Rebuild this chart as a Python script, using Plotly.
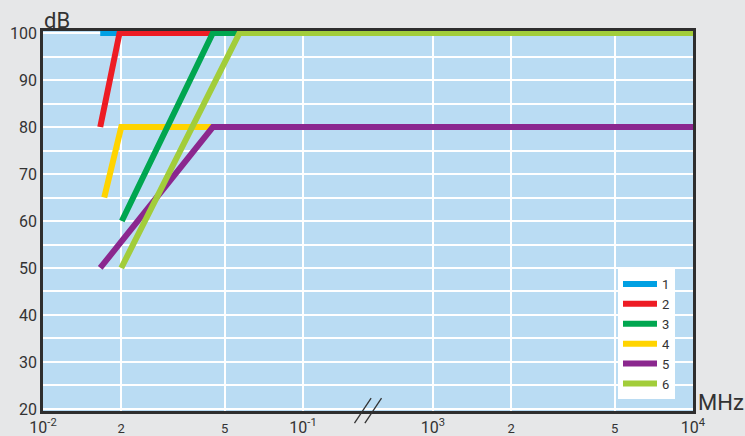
import numpy as np
import plotly.graph_objects as go

# ---- data (frequency in MHz, attenuation in dB) ----
series_names = ["1", "2", "3", "4", "5", "6"]
freq_1 = [0.0166, 1e4]
db_1 = [100, 100]
freq_2 = [0.0166, 0.0197, 1e4]
db_2 = [80, 100, 100]
freq_3 = [0.0201, 0.045, 1e4]
db_3 = [60, 100, 100]
freq_4 = [0.0172, 0.02, 1e4]
db_4 = [65, 80, 80]
freq_5 = [0.0166, 0.045, 1e4]
db_5 = [50, 80, 80]
freq_6 = [0.02, 0.057, 1e4]
db_6 = [50, 100, 100]

x_tick_freqs = [0.01, 0.02, 0.05, 0.1, 1000, 2000, 5000, 10000]
x_tick_labels = ["10<sup>-2</sup>", "2", "5", "10<sup>-1</sup>",
                 "10<sup>3</sup>", "2", "5", "10<sup>4</sup>"]
y_tick_vals = list(range(20, 101, 10))

colors = ["#00a0e3", "#ed1c24", "#00a650", "#ffd400", "#8b278e", "#a2cd3a"]

# broken log axis: 10^-2..10^-1, half-decade gap, 10^3..10^4
BREAK_AT = 0.1
BREAK_SHIFT = 3.5


def to_u(f):
    f = np.asarray(f, dtype=float)
    return np.where(f <= BREAK_AT, np.log10(f), np.log10(f) - BREAK_SHIFT)


freqs = [freq_1, freq_2, freq_3, freq_4, freq_5, freq_6]
dbs = [db_1, db_2, db_3, db_4, db_5, db_6]
draw_order = [0, 1, 3, 2, 4, 5]

fig = go.Figure()
for i in draw_order:
    fig.add_trace(go.Scatter(
        x=to_u(freqs[i]), y=dbs[i], mode="lines", name=series_names[i],
        line=dict(color=colors[i], width=6), legendrank=i + 1,
        hoverinfo="skip"))

tick_u = to_u(x_tick_freqs)
tick_text = []
for lab in x_tick_labels:
    if lab.startswith("10"):
        tick_text.append(lab)
    else:
        tick_text.append("<span style='font-size:13px'>" + lab + "</span>")

axis_col = "#2e2e2e"
fig.update_layout(
    template="none",
    width=745, height=436,
    margin=dict(l=43, r=52, t=31, b=25, autoexpand=False),
    paper_bgcolor="#e6e7e8",
    plot_bgcolor="#badcf3",
    font=dict(family="Roboto, sans-serif", color="#333333"),
    showlegend=True,
    legend=dict(x=(618 - 43) / 650, y=(411 - 269) / 380, xanchor="left",
                yanchor="top", bgcolor="white", borderwidth=0,
                font=dict(size=13, color="#333333"),
                itemwidth=34, tracegroupgap=0),
    xaxis=dict(range=[-2, 0.5], tickvals=list(tick_u), ticktext=tick_text,
               tickfont=dict(size=16, color="#333333"), automargin=False,
               showgrid=True, gridcolor="white", gridwidth=1.5,
               zeroline=False, showline=True, linecolor=axis_col,
               linewidth=2.5, mirror=True, ticks=""),
    yaxis=dict(range=[19.57, 100.43], tickvals=y_tick_vals,
               tickfont=dict(size=16, color="#333333"), automargin=False,
               showgrid=True, gridcolor="white", gridwidth=1.5,
               minor=dict(tick0=20, dtick=5, showgrid=True,
                          gridcolor="white", gridwidth=1.5, ticks=""),
               zeroline=False, showline=True, linecolor=axis_col,
               linewidth=2.5, mirror=True, ticks=""),
    annotations=[
        dict(text="dB", xref="paper", yref="paper", x=-0.002, y=1.0,
             xanchor="left", yanchor="bottom", showarrow=False,
             font=dict(size=22, color="#333333"), yshift=-4),
        dict(text="MHz", xref="paper", yref="paper", x=1.0, y=0.0,
             xanchor="left", yanchor="bottom", showarrow=False,
             font=dict(size=22, color="#333333"), xshift=3, yshift=-6),
    ],
)

# axis-break marks "//"
bc = (to_u([BREAK_AT])[0] + to_u([1000])[0]) / 2
for off in (-0.04, 0.0):
    fig.add_shape(type="line", xref="x", yref="paper",
                  x0=bc + off - 0.012, y0=-0.032,
                  x1=bc + off + 0.052, y1=0.034,
                  line=dict(color="#333333", width=1.3))

fig.write_html("out.html",
               config={"displayModeBar": False},
               post_script="document.body.style.margin='0';"
                           "document.body.style.overflow='hidden';")
